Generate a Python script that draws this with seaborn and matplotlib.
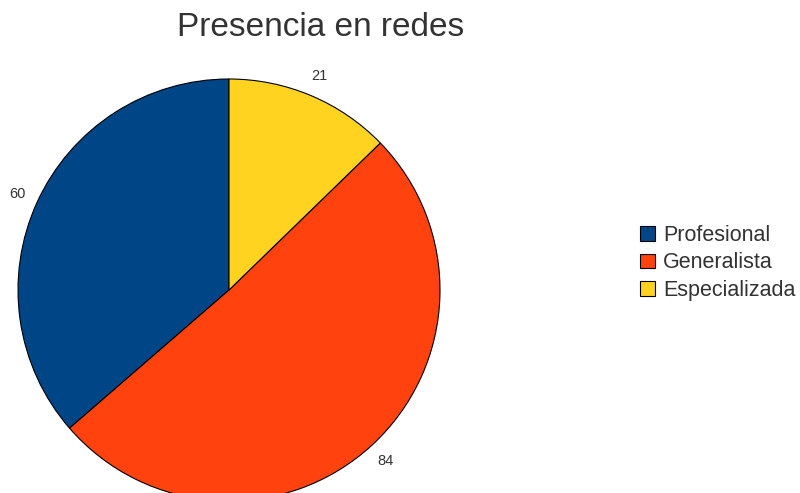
import matplotlib
matplotlib.use("Agg")
import matplotlib.pyplot as plt
import seaborn as sns
from matplotlib.patches import Patch

sns.set_theme(style="white")
plt.rcParams['font.family'] = ['Liberation Sans', 'DejaVu Sans']

categories = ["Profesional", "Generalista", "Especializada"]
values = [60, 84, 21]
colors = ["#004586", "#ff420e", "#ffd320"]
title = "Presencia en redes"

fig = plt.figure(figsize=(8, 4.93), dpi=100)
fig.patch.set_facecolor("white")
cx, cy, r = 229, 493 - 290, 211
ax = fig.add_axes([(cx - r) / 800, (cy - r) / 493, 2 * r / 800, 2 * r / 493])
wedges, texts = ax.pie(values, labels=[str(v) for v in values], colors=colors,
                       startangle=90, counterclock=True, labeldistance=1.1,
                       wedgeprops=dict(edgecolor="black", linewidth=0.8),
                       textprops=dict(color="#333333", fontsize=10.5))
for t in texts:
    t.set_ha("center")
    t.set_va("center")
ax.set_xlim(-1, 1)
ax.set_ylim(-1, 1)
ax.set_aspect("equal")
ax.axis("off")
for w in wedges:
    w.set_clip_on(False)

fig.text(321 / 800, 1 - 28 / 493, title, ha="center", va="center",
         fontsize=24, color="#333333")

handles = [Patch(facecolor=c, edgecolor="black", linewidth=0.8) for c in colors]
leg = fig.legend(handles, categories, loc="center left",
                 bbox_to_anchor=(640 / 800, 1 - 263 / 493), frameon=False,
                 fontsize=15.5, handlelength=0.68, handleheight=0.68,
                 handletextpad=0.4, labelspacing=0.3, labelcolor="#333333",
                 borderpad=0.0, borderaxespad=0.0)

fig.savefig("out.png", dpi=100, facecolor="white")
